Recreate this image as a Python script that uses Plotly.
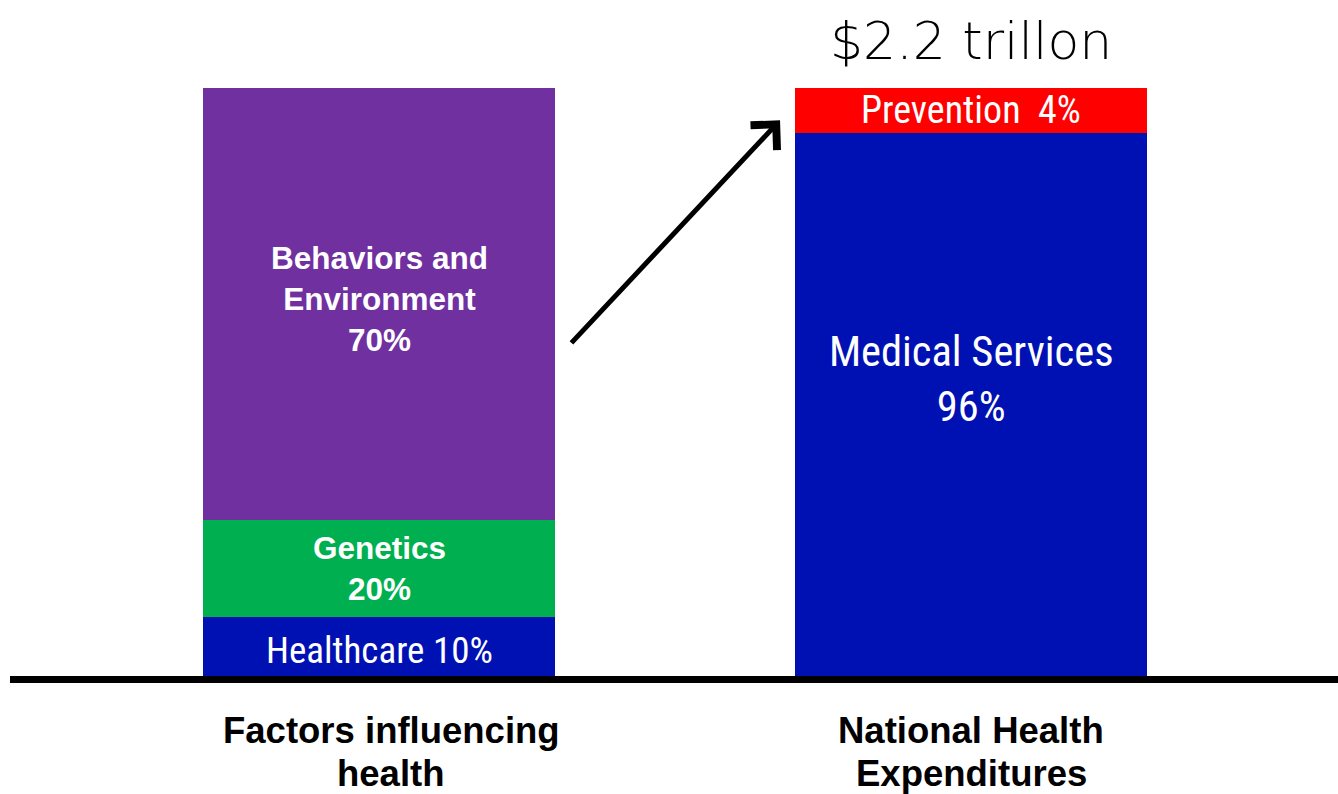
import plotly.graph_objects as go

# ---- data ----
categories = ["Factors influencing<br>health", "National Health<br>Expenditures"]
# segment heights as drawn in the picture (share of bar height, %)
left_segments = ["Healthcare", "Genetics", "Behaviors and Environment"]
left_heights = [10.0, 16.5, 73.5]
left_labels = ["Healthcare 10%", "<b>Genetics<br>20%</b>", "<b>Behaviors and<br>Environment<br>70%</b>"]
left_colors = ["#0011B3", "#00B050", "#7030A0"]

right_segments = ["Medical Services", "Prevention"]
right_heights = [92.4, 7.6]
right_labels = ["Medical Services<br>96%", "Prevention  4%"]
right_colors = ["#0011B3", "#FF0000"]

total_label = "$2.2 trillon"

NARROW = "Liberation Sans Narrow, Arial Narrow, Roboto Condensed, sans-serif"
BOLD = "Liberation Sans, Arial, sans-serif"

fig = go.Figure()
for name, h, c in zip(left_segments, left_heights, left_colors):
    fig.add_trace(go.Bar(x=[0], y=[h], name=name, marker=dict(color=c, line=dict(width=0)),
                         width=0.5946, hoverinfo="skip"))
for name, h, c in zip(right_segments, right_heights, right_colors):
    fig.add_trace(go.Bar(x=[1], y=[h], name=name, marker=dict(color=c, line=dict(width=0)),
                         width=0.5946, hoverinfo="skip"))

ann = []
# left labels
cum = 0
left_fonts = [dict(family=NARROW, size=37, color="white"),
              dict(family=BOLD, size=31.5, color="white"),
              dict(family=BOLD, size=31.5, color="white")]
left_yshift = [-4, 0, 5]
for h, lab, f, ys in zip(left_heights, left_labels, left_fonts, left_yshift):
    ann.append(dict(x=0, y=cum + h / 2, xref="x", yref="y", text=lab, showarrow=False,
                    font=f, yshift=ys))
    cum += h
cum = 0
right_fonts = [dict(family=NARROW, size=42.5, color="white"),
               dict(family=NARROW, size=38, color="white")]
right_yshift = [25, 0]
for h, lab, f, ys in zip(right_heights, right_labels, right_fonts, right_yshift):
    ann.append(dict(x=1, y=cum + h / 2, xref="x", yref="y", text=lab, showarrow=False,
                    font=f, yshift=ys))
    cum += h

# category labels (one annotation per line for tighter line spacing)
for i, (cat, xs) in enumerate(zip(categories, [12, 0])):
    for j, line in enumerate(cat.split("<br>")):
        ann.append(dict(x=i, y=0, xref="x", yref="y", text="<b>" + line + "</b>", showarrow=False,
                        yanchor="middle", yshift=-(54 + 43 * j), xshift=xs,
                        font=dict(family=BOLD, size=36.5, color="black")))

# total label
ann.append(dict(x=1, y=1.135, xref="x", yref="paper", text=total_label, showarrow=False,
                font=dict(family="DejaVu Sans", size=52, color="black", weight=300)))

# arrow
ann.append(dict(x=0.6774, y=94.5, xref="x", yref="y", ax=-210, ay=224, showarrow=True,
                arrowhead=4, arrowsize=1.4, arrowwidth=5, arrowcolor="black", text=""))

fig.update_layout(
    barmode="stack",
    width=1338, height=794,
    margin=dict(l=10, r=0, t=88, b=118),
    paper_bgcolor="white", plot_bgcolor="white",
    showlegend=False,
    xaxis=dict(range=[-0.6233, 1.6199], visible=False, fixedrange=True),
    yaxis=dict(range=[0, 100], visible=False, fixedrange=True),
    annotations=ann,
    shapes=[dict(type="line", xref="paper", yref="paper", x0=0, x1=1,
                 y0=-3.5 / 588, y1=-3.5 / 588, line=dict(color="black", width=7))],
)

fig.write_html("out.html")
